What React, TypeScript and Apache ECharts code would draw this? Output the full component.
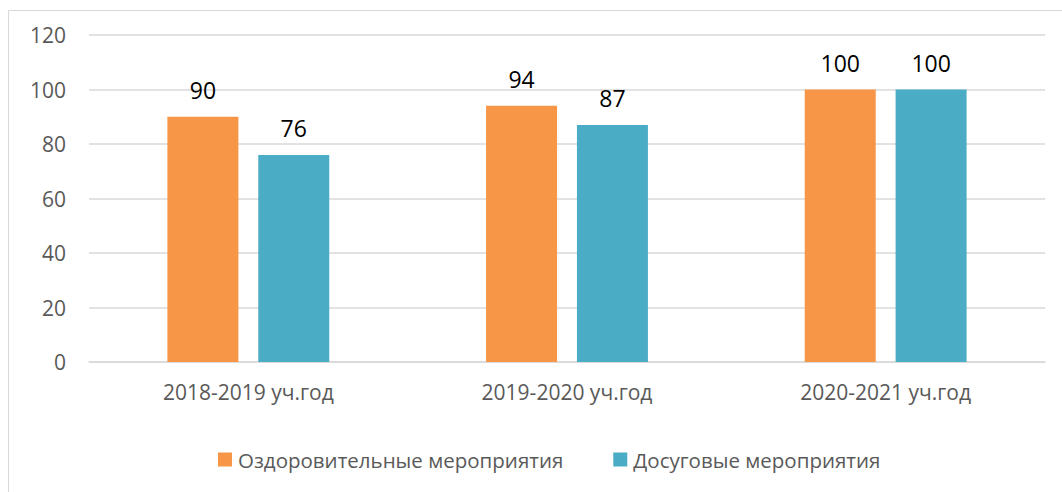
import React, { useEffect, useRef } from "react";
import * as echarts from "echarts";

const categories = ["2018-2019 уч.год", "2019-2020 уч.год", "2020-2021 уч.год"];
const seriesNames = ["Оздоровительные мероприятия", "Досуговые мероприятия"];
const healthValues = [90, 94, 100];
const leisureValues = [76, 87, 100];
const colors = ["#F79646", "#4BACC6"];

const FONT = "'Open Sans', sans-serif";

export default function App() {
  const ref = useRef<HTMLDivElement>(null);
  useEffect(() => {
    if (!ref.current) return;
    const chart = echarts.init(ref.current, null, { renderer: "svg" });
    const labelCfg = {
      show: true,
      position: "top" as const,
      distance: 15,
      color: "#000000",
      fontFamily: FONT,
      fontSize: 23,
    };
    chart.setOption({
      animation: false,
      backgroundColor: "#ffffff",
      textStyle: { fontFamily: FONT },
      graphic: [
        {
          type: "rect",
          shape: { x: 8.5, y: 10.5, width: 1080, height: 520 },
          style: { fill: "none", stroke: "#D9D9D9", lineWidth: 1 },
          silent: true,
        },
      ],
      grid: { left: 89, right: 17, top: 35, bottom: 130, containLabel: false },
      legend: {
        top: 444,
        left: 213,
        itemWidth: 14,
        itemHeight: 14,
        itemGap: 50,
        icon: "rect",
        textStyle: { color: "#595959", fontSize: 20.5, fontFamily: FONT, padding: [0, 0, 0, 1] },
        data: seriesNames,
      },
      xAxis: {
        type: "category",
        data: categories,
        axisLine: { lineStyle: { color: "#D9D9D9", width: 1.5 } },
        axisTick: { show: false },
        axisLabel: { color: "#595959", fontSize: 21, fontFamily: FONT, margin: 19 },
      },
      yAxis: {
        type: "value",
        min: 0,
        max: 120,
        interval: 20,
        axisLine: { show: false },
        axisTick: { show: false },
        splitLine: { lineStyle: { color: "#D9D9D9", width: 1.5 } },
        axisLabel: { color: "#595959", fontSize: 21, fontFamily: FONT, margin: 23 },
      },
      series: [
        {
          name: seriesNames[0],
          type: "bar",
          data: healthValues,
          barWidth: 71,
          barGap: "28%",
          itemStyle: { color: colors[0] },
          label: labelCfg,
        },
        {
          name: seriesNames[1],
          type: "bar",
          data: leisureValues,
          barWidth: 71,
          barGap: "28%",
          itemStyle: { color: colors[1] },
          label: labelCfg,
        },
      ],
    });
    return () => chart.dispose();
  }, []);
  return (
    <div
      ref={ref}
      style={{ position: "fixed", left: 0, top: 0, width: 1062, height: 492 }}
    />
  );
}
